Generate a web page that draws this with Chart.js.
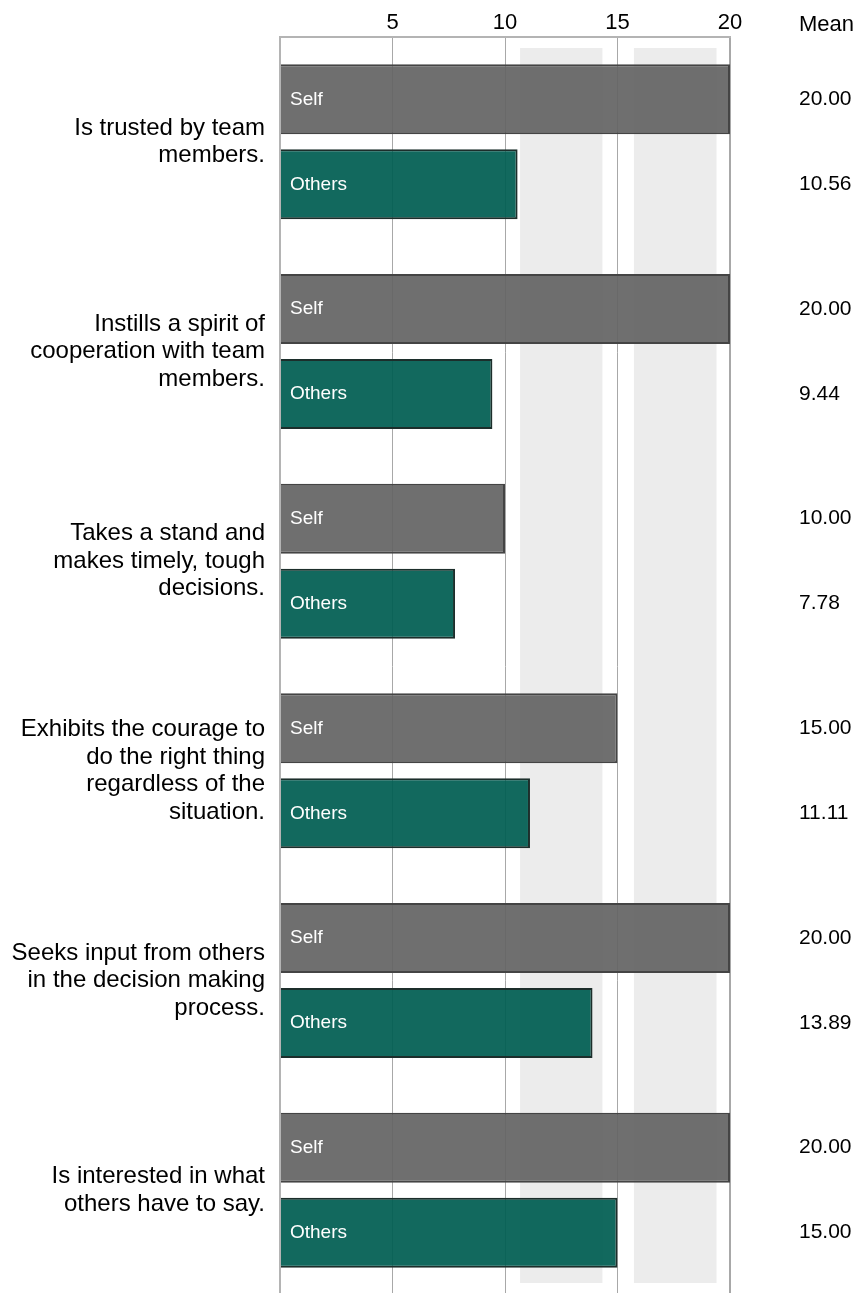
<!DOCTYPE html>
<html>
<head>
<meta charset="utf-8">
<script src="https://cdn.jsdelivr.net/npm/chart.js@4"></script>
<style>
  html, body { margin: 0; padding: 0; background: #fff; overflow: hidden; }
  #wrap { width: 856px; height: 1300px; position: relative; }
</style>
</head>
<body>
<div id="wrap"><canvas id="scores"></canvas></div>
<script>
const categories = [
  ['Is trusted by team', 'members.'],
  ['Instills a spirit of', 'cooperation with team', 'members.'],
  ['Takes a stand and', 'makes timely, tough', 'decisions.'],
  ['Exhibits the courage to', 'do the right thing', 'regardless of the', 'situation.'],
  ['Seeks input from others', 'in the decision making', 'process.'],
  ['Is interested in what', 'others have to say.']
];
const selfScores = [20.00, 20.00, 10.00, 15.00, 20.00, 20.00];
const othersScores = [10.56, 9.44, 7.78, 11.11, 13.89, 15.00];
const tickValues = [5, 10, 15, 20];
// shaded reference ranges behind the bars
const normBands = [[10.67, 14.33], [15.73, 19.4]];

const FONT = '"Liberation Sans", Arial, sans-serif';

const overlay = {
  id: 'overlay',
  beforeDatasetsDraw(chart) {
    const { ctx, chartArea, scales: { x } } = chart;
    ctx.save();
    ctx.fillStyle = '#ececec';
    normBands.forEach(([a, b]) => {
      const x0 = x.getPixelForValue(a);
      const x1 = x.getPixelForValue(b);
      ctx.fillRect(x0, chartArea.top + 11, x1 - x0, chartArea.bottom - chartArea.top - 23);
    });
    ctx.restore();
  },
  afterDatasetsDraw(chart) {
    const { ctx, chartArea } = chart;
    ctx.save();
    ctx.textBaseline = 'middle';
    ctx.textAlign = 'left';
    chart.data.datasets.forEach((ds, i) => {
      chart.getDatasetMeta(i).data.forEach((bar, j) => {
        ctx.fillStyle = '#fff';
        ctx.font = '19px ' + FONT;
        ctx.fillText(ds.label, chartArea.left + 10, bar.y);
        ctx.fillStyle = '#000';
        ctx.font = '21px ' + FONT;
        ctx.fillText(ds.data[j].toFixed(2), 799, bar.y);
      });
    });
    ctx.font = '22px ' + FONT;
    ctx.fillText('Mean', 799, 25);
    ctx.restore();
  }
};

new Chart(document.getElementById('scores'), {
  type: 'bar',
  data: {
    labels: categories,
    datasets: [
      {
        label: 'Self',
        data: selfScores,
        backgroundColor: 'rgba(100,100,100,0.93)',
        borderColor: '#444',
        borderWidth: 2,
        borderSkipped: 'start',
        barPercentage: 0.8235,
        categoryPercentage: 0.811
      },
      {
        label: 'Others',
        data: othersScores,
        backgroundColor: 'rgba(0,94,82,0.93)',
        borderColor: '#1c2e2b',
        borderWidth: 2,
        borderSkipped: 'start',
        barPercentage: 0.8235,
        categoryPercentage: 0.811
      }
    ]
  },
  options: {
    indexAxis: 'y',
    responsive: true,
    maintainAspectRatio: false,
    animation: false,
    layout: { padding: { left: 0, right: 126, top: 0, bottom: 5 } },
    plugins: {
      legend: { display: false },
      tooltip: { enabled: false }
    },
    scales: {
      x: {
        position: 'top',
        min: 0,
        max: 20,
        afterFit: (scale) => { scale.height = 37; },
        ticks: {
          stepSize: 5,
          padding: 1,
          color: '#000',
          font: { family: FONT, size: 22 },
          callback: (v) => tickValues.includes(v) ? v : ''
        },
        grid: {
          drawTicks: false,
          color: '#a8a8a8',
          lineWidth: (c) => (c.tick && (c.tick.value === 0 || c.tick.value === 20)) ? 2 : 1
        },
        border: { display: true, color: '#b4b4b4', width: 2 }
      },
      y: {
        afterFit: (scale) => {
          scale.width = 280;
          scale.paddingTop = 0;
          scale.paddingBottom = 0;
        },
        ticks: {
          padding: 15,
          color: '#000',
          font: { family: FONT, size: 24, lineHeight: 1.15 }
        },
        grid: { display: false, drawTicks: false },
        border: { display: true, color: '#b4b4b4', width: 2 }
      }
    }
  },
  plugins: [overlay]
});
</script>
</body>
</html>
